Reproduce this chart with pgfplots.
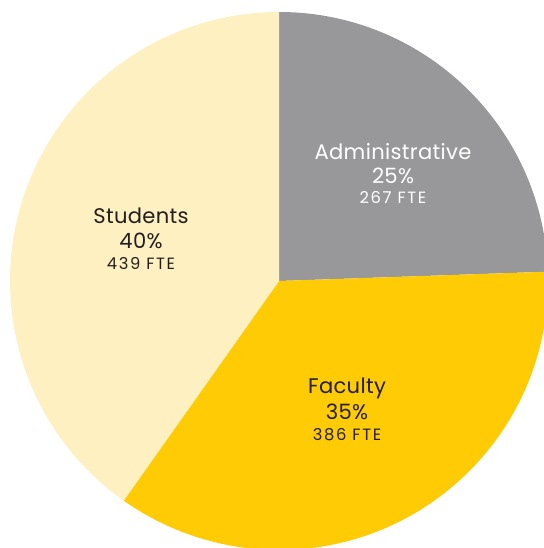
\documentclass[border=0pt]{standalone}
\usepackage{pgfplots}
\usepackage{pgfplotstable}
\pgfplotsset{compat=1.18}
\usepackage{fontspec}
\setmainfont{Poppins}
\newfontfamily\labfont[LetterSpace=1.5]{Poppins}
\newfontfamily\ftefont[LetterSpace=10]{Poppins}

\definecolor{admingray}{HTML}{98989A}
\definecolor{facyellow}{HTML}{FFCB05}
\definecolor{stulight}{HTML}{FEF0C0}
\definecolor{txtdark}{HTML}{231F20}

\tikzset{
  lab/.style={font=\labfont\fontsize{12}{13}\selectfont, anchor=center},
  fte/.style={font=\ftefont\fontsize{9.3}{10}\selectfont, anchor=center},
}

% FTE per group, clockwise from 12 o'clock
\pgfplotstableread{
group FTE
Administrative 267
Faculty 386
Students 439
}\ftetable

\pgfplotstablegetelem{0}{FTE}\of\ftetable \let\fteA\pgfplotsretval
\pgfplotstablegetelem{1}{FTE}\of\ftetable \let\fteF\pgfplotsretval
\pgfplotstablegetelem{2}{FTE}\of\ftetable \let\fteS\pgfplotsretval
\pgfmathsetmacro\total{\fteA+\fteF+\fteS}
\pgfmathsetmacro\angA{90}
\pgfmathsetmacro\angB{\angA-\fteA/\total*360}
\pgfmathsetmacro\angC{\angB-\fteF/\total*360}
\pgfmathsetmacro\angD{\angA-360}

\begin{document}
\begin{tikzpicture}
\begin{axis}[
  scale only axis, width=10.88cm, height=10.96cm,
  xmin=0, xmax=544, ymin=0, ymax=548,
  hide axis, clip=true,
]
  % slices, centre (279,267), radius 269 units = 5.38cm
  \fill[admingray] (axis cs:279,267) -- ++(\angA:5.38cm) arc[start angle=\angA, end angle=\angB, radius=5.38cm] -- cycle;
  \fill[facyellow] (axis cs:279,267) -- ++(\angB:5.38cm) arc[start angle=\angB, end angle=\angC, radius=5.38cm] -- cycle;
  \fill[stulight]  (axis cs:279,267) -- ++(\angC:5.38cm) arc[start angle=\angC, end angle=\angD, radius=5.38cm] -- cycle;

  \node[lab, text=white] at (axis cs:393,396) {Administrative};
  \node[lab, text=white] at (axis cs:393,372) {25\%};
  \node[fte, text=white] at (axis cs:393,351) {267 FTE};

  \node[lab, text=txtdark] at (axis cs:141,332) {Students};
  \node[lab, text=txtdark] at (axis cs:141,307) {40\%};
  \node[fte, text=txtdark] at (axis cs:141,284) {439 FTE};

  \node[lab, text=txtdark] at (axis cs:347,160) {Faculty};
  \node[lab, text=txtdark] at (axis cs:347,136) {35\%};
  \node[fte, text=txtdark] at (axis cs:347,113) {386 FTE};
\end{axis}
\pgfresetboundingbox
\path (current axis.south west) rectangle (current axis.north east);
\end{tikzpicture}
\end{document}
